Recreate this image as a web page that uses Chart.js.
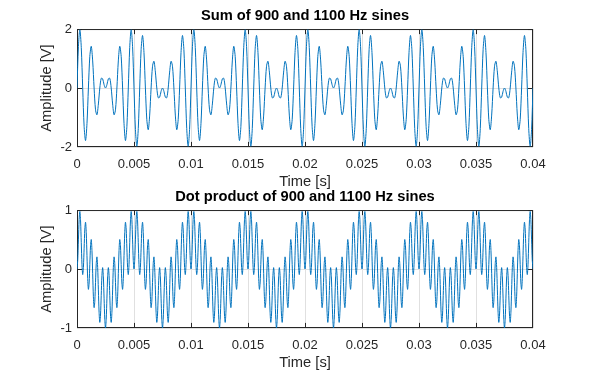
<!DOCTYPE html>
<html><head><meta charset="utf-8">
<script src="https://cdn.jsdelivr.net/npm/chart.js@4.4.1/dist/chart.umd.min.js"></script>
<style>
html,body{margin:0;padding:0;background:#fff;width:589px;height:380px;overflow:hidden;}
.pane{position:absolute;left:0;width:589px;height:199px;}
#w1{top:0}
#w2{top:181px}
</style></head><body>
<div class="pane" id="w1"><canvas id="c1" width="589" height="199"></canvas></div>
<div class="pane" id="w2"><canvas id="c2" width="589" height="199"></canvas></div>
<script>
// sampling rates of the recorded signals (samples per second)
const sumSampleRate = 8000;
const productSampleRate = 16000;
const timeTicks = [0, 0.005, 0.01, 0.015, 0.02, 0.025, 0.03, 0.035, 0.04];
const timeTickLabels = ['0', '0.005', '0.01', '0.015', '0.02', '0.025', '0.03', '0.035', '0.04'];
const sumTicks = [-2, 0, 2];
const sumTickLabels = ['-2', '0', '2'];
const productTicks = [-1, 0, 1];
const productTickLabels = ['-1', '0', '1'];

// Sum of 900 and 1100 Hz sines, 8 kHz (one row = 2.5 ms)
const sumValues = [
0,1.410,1.975,1.375,0,-1.307,-1.782,-1.206,0,1.075,1.414,0.918,0,-0.739,-0.908,-0.541,0,0.330,0.313,0.111,
0,0.111,0.313,0.330,0,-0.541,-0.908,-0.739,0,0.918,1.414,1.075,0,-1.206,-1.782,-1.307,0,1.375,1.975,1.410,
0,-1.410,-1.975,-1.375,0,1.307,1.782,1.206,0,-1.075,-1.414,-0.918,0,0.739,0.908,0.541,0,-0.330,-0.313,-0.111,
0,-0.111,-0.313,-0.330,0,0.541,0.908,0.739,0,-0.918,-1.414,-1.075,0,1.206,1.782,1.307,0,-1.375,-1.975,-1.410,
0,1.410,1.975,1.375,0,-1.307,-1.782,-1.206,0,1.075,1.414,0.918,0,-0.739,-0.908,-0.541,0,0.330,0.313,0.111,
0,0.111,0.313,0.330,0,-0.541,-0.908,-0.739,0,0.918,1.414,1.075,0,-1.206,-1.782,-1.307,0,1.375,1.975,1.410,
0,-1.410,-1.975,-1.375,0,1.307,1.782,1.206,0,-1.075,-1.414,-0.918,0,0.739,0.908,0.541,0,-0.330,-0.313,-0.111,
0,-0.111,-0.313,-0.330,0,0.541,0.908,0.739,0,-0.918,-1.414,-1.075,0,1.206,1.782,1.307,0,-1.375,-1.975,-1.410,
0,1.410,1.975,1.375,0,-1.307,-1.782,-1.206,0,1.075,1.414,0.918,0,-0.739,-0.908,-0.541,0,0.330,0.313,0.111,
0,0.111,0.313,0.330,0,-0.541,-0.908,-0.739,0,0.918,1.414,1.075,0,-1.206,-1.782,-1.307,0,1.375,1.975,1.410,
0,-1.410,-1.975,-1.375,0,1.307,1.782,1.206,0,-1.075,-1.414,-0.918,0,0.739,0.908,0.541,0,-0.330,-0.313,-0.111,
0,-0.111,-0.313,-0.330,0,0.541,0.908,0.739,0,-0.918,-1.414,-1.075,0,1.206,1.782,1.307,0,-1.375,-1.975,-1.410,
0,1.410,1.975,1.375,0,-1.307,-1.782,-1.206,0,1.075,1.414,0.918,0,-0.739,-0.908,-0.541,0,0.330,0.313,0.111,
0,0.111,0.313,0.330,0,-0.541,-0.908,-0.739,0,0.918,1.414,1.075,0,-1.206,-1.782,-1.307,0,1.375,1.975,1.410,
0,-1.410,-1.975,-1.375,0,1.307,1.782,1.206,0,-1.075,-1.414,-0.918,0,0.739,0.908,0.541,0,-0.330,-0.313,-0.111,
0,-0.111,-0.313,-0.330,0,0.541,0.908,0.739,0,-0.918,-1.414,-1.075,0,1.206,1.782,1.307,0,-1.375,-1.975,-1.410,
0
];

// Product of 900 and 1100 Hz sines, 16 kHz (one row = 1.25 ms)
const productValues = [
0,0.145,0.494,0.840,0.976,0.815,0.446,0.073,-0.095,0.027,0.354,0.678,0.794,0.615,0.227,-0.162,-0.345,-0.237,0.078,0.393,
0.5,0.314,-0.078,-0.470,-0.655,-0.545,-0.227,0.092,0.206,0.029,-0.354,-0.734,-0.905,-0.780,-0.446,-0.108,0.024,-0.133,-0.494,-0.852,
-1,-0.852,-0.494,-0.133,0.024,-0.108,-0.446,-0.780,-0.905,-0.734,-0.354,0.029,0.206,0.092,-0.227,-0.545,-0.655,-0.470,-0.078,0.314,
0.5,0.393,0.078,-0.237,-0.345,-0.162,0.227,0.615,0.794,0.678,0.354,0.027,-0.095,0.073,0.446,0.815,0.976,0.840,0.494,0.145,
0,0.145,0.494,0.840,0.976,0.815,0.446,0.073,-0.095,0.027,0.354,0.678,0.794,0.615,0.227,-0.162,-0.345,-0.237,0.078,0.393,
0.5,0.314,-0.078,-0.470,-0.655,-0.545,-0.227,0.092,0.206,0.029,-0.354,-0.734,-0.905,-0.780,-0.446,-0.108,0.024,-0.133,-0.494,-0.852,
-1,-0.852,-0.494,-0.133,0.024,-0.108,-0.446,-0.780,-0.905,-0.734,-0.354,0.029,0.206,0.092,-0.227,-0.545,-0.655,-0.470,-0.078,0.314,
0.5,0.393,0.078,-0.237,-0.345,-0.162,0.227,0.615,0.794,0.678,0.354,0.027,-0.095,0.073,0.446,0.815,0.976,0.840,0.494,0.145,
0,0.145,0.494,0.840,0.976,0.815,0.446,0.073,-0.095,0.027,0.354,0.678,0.794,0.615,0.227,-0.162,-0.345,-0.237,0.078,0.393,
0.5,0.314,-0.078,-0.470,-0.655,-0.545,-0.227,0.092,0.206,0.029,-0.354,-0.734,-0.905,-0.780,-0.446,-0.108,0.024,-0.133,-0.494,-0.852,
-1,-0.852,-0.494,-0.133,0.024,-0.108,-0.446,-0.780,-0.905,-0.734,-0.354,0.029,0.206,0.092,-0.227,-0.545,-0.655,-0.470,-0.078,0.314,
0.5,0.393,0.078,-0.237,-0.345,-0.162,0.227,0.615,0.794,0.678,0.354,0.027,-0.095,0.073,0.446,0.815,0.976,0.840,0.494,0.145,
0,0.145,0.494,0.840,0.976,0.815,0.446,0.073,-0.095,0.027,0.354,0.678,0.794,0.615,0.227,-0.162,-0.345,-0.237,0.078,0.393,
0.5,0.314,-0.078,-0.470,-0.655,-0.545,-0.227,0.092,0.206,0.029,-0.354,-0.734,-0.905,-0.780,-0.446,-0.108,0.024,-0.133,-0.494,-0.852,
-1,-0.852,-0.494,-0.133,0.024,-0.108,-0.446,-0.780,-0.905,-0.734,-0.354,0.029,0.206,0.092,-0.227,-0.545,-0.655,-0.470,-0.078,0.314,
0.5,0.393,0.078,-0.237,-0.345,-0.162,0.227,0.615,0.794,0.678,0.354,0.027,-0.095,0.073,0.446,0.815,0.976,0.840,0.494,0.145,
0,0.145,0.494,0.840,0.976,0.815,0.446,0.073,-0.095,0.027,0.354,0.678,0.794,0.615,0.227,-0.162,-0.345,-0.237,0.078,0.393,
0.5,0.314,-0.078,-0.470,-0.655,-0.545,-0.227,0.092,0.206,0.029,-0.354,-0.734,-0.905,-0.780,-0.446,-0.108,0.024,-0.133,-0.494,-0.852,
-1,-0.852,-0.494,-0.133,0.024,-0.108,-0.446,-0.780,-0.905,-0.734,-0.354,0.029,0.206,0.092,-0.227,-0.545,-0.655,-0.470,-0.078,0.314,
0.5,0.393,0.078,-0.237,-0.345,-0.162,0.227,0.615,0.794,0.678,0.354,0.027,-0.095,0.073,0.446,0.815,0.976,0.840,0.494,0.145,
0,0.145,0.494,0.840,0.976,0.815,0.446,0.073,-0.095,0.027,0.354,0.678,0.794,0.615,0.227,-0.162,-0.345,-0.237,0.078,0.393,
0.5,0.314,-0.078,-0.470,-0.655,-0.545,-0.227,0.092,0.206,0.029,-0.354,-0.734,-0.905,-0.780,-0.446,-0.108,0.024,-0.133,-0.494,-0.852,
-1,-0.852,-0.494,-0.133,0.024,-0.108,-0.446,-0.780,-0.905,-0.734,-0.354,0.029,0.206,0.092,-0.227,-0.545,-0.655,-0.470,-0.078,0.314,
0.5,0.393,0.078,-0.237,-0.345,-0.162,0.227,0.615,0.794,0.678,0.354,0.027,-0.095,0.073,0.446,0.815,0.976,0.840,0.494,0.145,
0,0.145,0.494,0.840,0.976,0.815,0.446,0.073,-0.095,0.027,0.354,0.678,0.794,0.615,0.227,-0.162,-0.345,-0.237,0.078,0.393,
0.5,0.314,-0.078,-0.470,-0.655,-0.545,-0.227,0.092,0.206,0.029,-0.354,-0.734,-0.905,-0.780,-0.446,-0.108,0.024,-0.133,-0.494,-0.852,
-1,-0.852,-0.494,-0.133,0.024,-0.108,-0.446,-0.780,-0.905,-0.734,-0.354,0.029,0.206,0.092,-0.227,-0.545,-0.655,-0.470,-0.078,0.314,
0.5,0.393,0.078,-0.237,-0.345,-0.162,0.227,0.615,0.794,0.678,0.354,0.027,-0.095,0.073,0.446,0.815,0.976,0.840,0.494,0.145,
0,0.145,0.494,0.840,0.976,0.815,0.446,0.073,-0.095,0.027,0.354,0.678,0.794,0.615,0.227,-0.162,-0.345,-0.237,0.078,0.393,
0.5,0.314,-0.078,-0.470,-0.655,-0.545,-0.227,0.092,0.206,0.029,-0.354,-0.734,-0.905,-0.780,-0.446,-0.108,0.024,-0.133,-0.494,-0.852,
-1,-0.852,-0.494,-0.133,0.024,-0.108,-0.446,-0.780,-0.905,-0.734,-0.354,0.029,0.206,0.092,-0.227,-0.545,-0.655,-0.470,-0.078,0.314,
0.5,0.393,0.078,-0.237,-0.345,-0.162,0.227,0.615,0.794,0.678,0.354,0.027,-0.095,0.073,0.446,0.815,0.976,0.840,0.494,0.145,
0
];

const FONT = "'Liberation Sans', Arial, Helvetica, sans-serif";
const AXIS_COLOR = '#262626';
const GRID_COLOR = '#e0e0e0';
const LINE_COLOR = '#0072BD';

const frame = {
  id: 'frame',
  beforeDatasetsDraw(chart) {
    const {ctx, chartArea: a, scales: {x, y}} = chart;
    const L = a.left + 0.5, R = a.right - 0.5, T = a.top + 0.5, B = a.bottom - 0.5;
    const tl = 4.6;
    ctx.save();
    ctx.strokeStyle = AXIS_COLOR;
    ctx.lineWidth = 1;
    ctx.strokeRect(L, T, R - L, B - T);
    ctx.beginPath();
    x.ticks.forEach(t => {
      let px = Math.round(x.getPixelForValue(t.value)) + 0.5;
      px = Math.min(Math.max(px, L), R);
      ctx.moveTo(px, B); ctx.lineTo(px, B - tl);
      ctx.moveTo(px, T); ctx.lineTo(px, T + tl);
    });
    y.ticks.forEach(t => {
      let py = Math.round(y.getPixelForValue(t.value)) + 0.5;
      py = Math.min(Math.max(py, T), B);
      ctx.moveTo(L, py); ctx.lineTo(L + tl, py);
      ctx.moveTo(R, py); ctx.lineTo(R - tl, py);
    });
    ctx.stroke();
    ctx.restore();
  }
};

function makeChart(canvasId, titleText, values, rate, yTicks, yLabels) {
  const points = values.map((v, i) => ({x: i / rate, y: v}));
  return new Chart(document.getElementById(canvasId), {
    type: 'line',
    data: {datasets: [{
      data: points,
      borderColor: LINE_COLOR,
      borderWidth: 1,
      pointRadius: 0,
      tension: 0.3,
      fill: false
    }]},
    options: {
      responsive: false,
      animation: false,
      devicePixelRatio: 1,
      layout: {padding: {left: 21, right: 0, top: 0, bottom: 0}},
      plugins: {
        legend: {display: false},
        tooltip: {enabled: false},
        title: {
          display: true, text: titleText, color: '#000',
          font: {family: FONT, size: 14.7, weight: 'bold'},
          padding: {top: 7.6, bottom: 3.8}
        }
      },
      scales: {
        x: {
          type: 'linear', min: 0, max: 0.04,
          afterBuildTicks: s => { s.ticks = timeTicks.map(v => ({value: v})); },
          afterFit: s => { s.height = 52; },
          ticks: {
            callback: (v, i) => timeTickLabels[i],
            font: {family: FONT, size: 13}, color: AXIS_COLOR,
            padding: 10, maxRotation: 0, autoSkip: false
          },
          grid: {color: GRID_COLOR, drawTicks: false, lineWidth: 1},
          border: {display: false},
          title: {display: true, text: 'Time [s]', color: AXIS_COLOR,
            font: {family: FONT, size: 14.7}, padding: {top: 0, bottom: 8.2}}
        },
        y: {
          type: 'linear', position: 'left', min: yTicks[0], max: yTicks[yTicks.length - 1],
          afterBuildTicks: s => { s.ticks = yTicks.map(v => ({value: v})); },
          afterFit: s => { s.width = 56; },
          ticks: {
            callback: (v, i) => yLabels[i],
            font: {family: FONT, size: 13}, color: AXIS_COLOR, padding: 5
          },
          grid: {color: GRID_COLOR, drawTicks: false, lineWidth: 1},
          border: {display: false},
          title: {display: true, text: 'Amplitude [V]', color: AXIS_COLOR,
            font: {family: FONT, size: 14.7}, padding: {top: 17.2, bottom: 0}}
        },
        yRight: {
          type: 'linear', position: 'right', display: true,
          afterFit: s => { s.width = 56; },
          ticks: {display: false},
          grid: {display: false, drawTicks: false},
          border: {display: false}
        }
      }
    },
    plugins: [frame]
  });
}

makeChart('c1', 'Sum of 900 and 1100 Hz sines', sumValues, sumSampleRate, sumTicks, sumTickLabels);
makeChart('c2', 'Dot product of 900 and 1100 Hz sines', productValues, productSampleRate, productTicks, productTickLabels);
</script>
</body></html>
